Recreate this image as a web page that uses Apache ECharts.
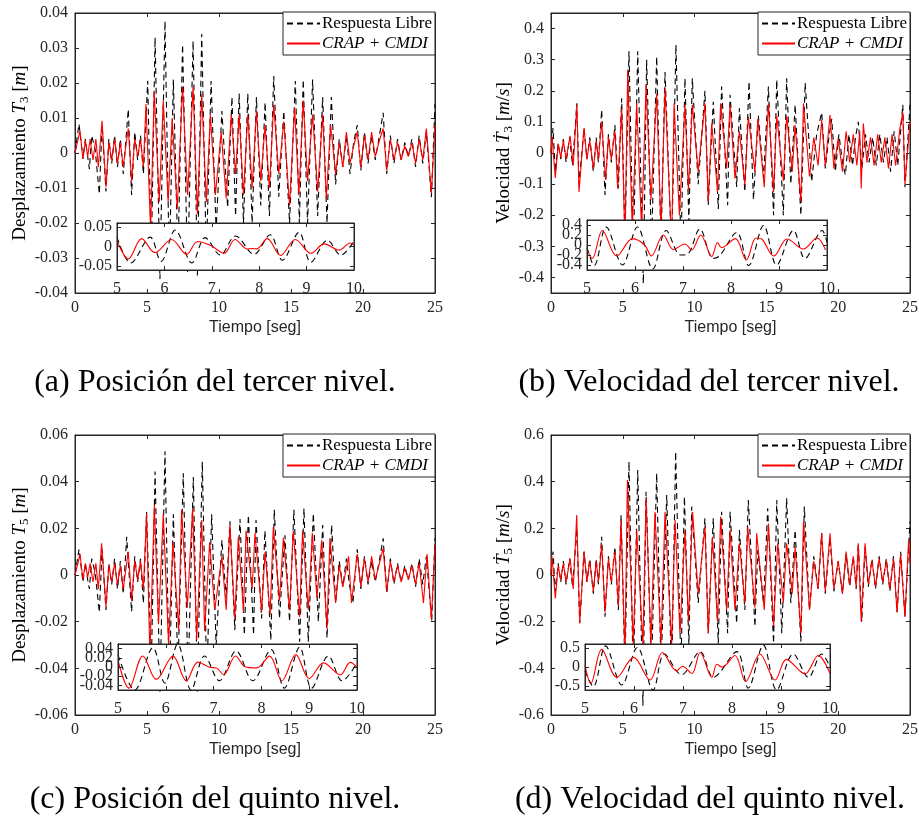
<!DOCTYPE html>
<html>
<head>
<meta charset="utf-8">
<script src="https://cdn.jsdelivr.net/npm/echarts@6/dist/echarts.min.js"></script>
<style>
  html, body { margin: 0; padding: 0; background: #fff; }
  #chart { width: 919px; height: 823px; }
</style>
</head>
<body>
<div id="chart"></div>
<script>
// ---------- tick labels ----------
const ticksX = [0, 5, 10, 15, 20, 25];
const insetTicksX = [5, 6, 7, 8, 9, 10];
const ticksYA = [-0.04, -0.03, -0.02, -0.01, 0, 0.01, 0.02, 0.03, 0.04];
const ticksYB = [-0.4, -0.3, -0.2, -0.1, 0, 0.1, 0.2, 0.3, 0.4];
const ticksYC = [-0.06, -0.04, -0.02, 0, 0.02, 0.04, 0.06];
const ticksYD = [-0.6, -0.4, -0.2, 0, 0.2, 0.4, 0.6];
const insetTicksYA = [-0.05, 0, 0.05];
const insetTicksYB = [-0.4, -0.2, 0, 0.2, 0.4];
const insetTicksYC = [-0.04, -0.02, 0, 0.02, 0.04];
const insetTicksYD = [-0.5, 0, 0.5];

// ---------- (a) desplazamiento tercer nivel: [t (s), valor (m)] ----------
const libreA = [[0,0],[0.28,0.0083],[0.55,-0.0017],[0.72,0.004],[0.88,-0.001],[1.0,-0.0046],[1.16,0.005],[1.4,0.001],[1.69,-0.0117],[1.88,0.008],[2.15,-0.011],[2.35,0.004],[2.55,-0.003],[2.75,0.005],[2.95,-0.004],[3.15,0.004],[3.35,-0.006],[3.5,0.002],[3.7,0.0125],[3.93,-0.012],[4.15,0.006],[4.35,-0.002],[4.55,0.005],[4.75,-0.006],[5.05,0.0206],[5.3,-0.03],[5.56,0.033],[5.9,-0.036],[6.25,0.0377],[6.55,-0.033],[6.83,0.021],[7.15,-0.03],[7.47,0.031],[7.82,-0.034],[8.2,0.032],[8.5,-0.035],[8.8,0.034],[9.12,-0.03],[9.45,0.0206],[9.8,-0.022],[10.2,0.012],[10.6,-0.0155],[10.9,0.016],[11.15,-0.018],[11.4,0.017],[11.7,-0.02],[12.0,0.017],[12.3,-0.02],[12.6,0.016],[12.9,-0.015],[13.2,0.0145],[13.5,-0.018],[13.8,0.022],[14.15,-0.0125],[14.5,0.012],[14.9,-0.02],[15.3,0.0206],[15.58,-0.02],[15.85,0.021],[16.15,-0.02],[16.5,0.021],[16.85,-0.018],[17.2,0.016],[17.5,-0.02],[17.8,0.016],[18.1,-0.009],[18.35,0.004],[18.6,-0.004],[18.85,0.005],[19.1,-0.006],[19.35,0.003],[19.6,0.008],[19.85,-0.005],[20.1,0.006],[20.35,-0.003],[20.6,0.005],[20.85,-0.002],[21.1,0.004],[21.4,0.0115],[21.65,-0.006],[21.9,0.005],[22.15,-0.003],[22.4,0.004],[22.65,-0.002],[22.9,0.003],[23.15,-0.001],[23.4,0.004],[23.65,-0.004],[23.9,0.005],[24.15,-0.003],[24.4,0.006],[24.75,-0.0126],[25,0.014]];
const crapA = [[0,0],[0.35,0.0064],[0.55,-0.0017],[0.72,0.0035],[0.88,-0.001],[1.05,0.004],[1.25,-0.002],[1.45,0.004],[1.62,-0.004],[1.88,0.0092],[2.15,-0.0098],[2.35,0.003],[2.55,-0.002],[2.75,0.004],[2.95,-0.003],[3.15,0.003],[3.35,-0.004],[3.5,0.001],[3.7,0.007],[3.93,-0.008],[4.15,0.004],[4.35,-0.001],[4.55,0.004],[4.75,-0.004],[4.93,0.014],[5.25,-0.022],[5.5,0.0178],[5.85,-0.014],[6.13,0.015],[6.47,-0.014],[6.75,0.01],[7.1,-0.016],[7.47,0.019],[7.82,-0.012],[8.2,0.019],[8.5,-0.0174],[8.8,0.0168],[9.12,-0.014],[9.4,0.011],[9.75,-0.012],[10.15,0.006],[10.5,-0.013],[10.85,0.011],[11.15,-0.006],[11.4,0.011],[11.7,-0.012],[12.0,0.011],[12.3,-0.01],[12.6,0.012],[12.9,-0.008],[13.2,0.008],[13.5,-0.01],[13.8,0.0138],[14.15,-0.006],[14.5,0.009],[14.9,-0.015],[15.25,0.013],[15.55,-0.012],[15.85,0.015],[16.15,-0.008],[16.5,0.011],[16.85,-0.011],[17.2,0.011],[17.45,-0.013],[17.75,0.008],[18.1,-0.006],[18.35,0.003],[18.6,-0.004],[18.85,0.006],[19.1,-0.003],[19.35,0.002],[19.6,0.006],[19.85,-0.004],[20.1,0.005],[20.35,-0.002],[20.6,0.006],[20.85,-0.001],[21.1,0.003],[21.4,0.007],[21.65,-0.005],[21.9,0.004],[22.15,-0.002],[22.4,0.003],[22.65,-0.002],[22.9,0.002],[23.15,-0.001],[23.4,0.003],[23.65,-0.003],[23.9,0.004],[24.15,-0.002],[24.4,0.007],[24.75,-0.0115],[25,0.008]];
const insetLibreA = [[5.0,0.024],[5.29,-0.042],[5.7,0.024],[5.93,-0.038],[6.23,0.042],[6.58,-0.042],[6.86,0.0227],[7.18,-0.022],[7.5,0.027],[7.89,-0.02],[8.23,0.03],[8.49,-0.035],[8.84,0.036],[9.09,-0.04],[9.44,0.016],[9.72,-0.022],[10.0,0.014]];
const insetCrapA = [[5.0,0.015],[5.24,-0.032],[5.52,0.02],[5.8,-0.0157],[6.15,0.018],[6.47,-0.02],[6.7,0.0128],[6.97,0.003],[7.26,-0.0174],[7.49,0.018],[7.75,-0.0067],[7.85,-0.005],[7.95,-0.006],[8.17,0.02],[8.45,-0.0227],[8.76,0.018],[9.09,-0.0174],[9.37,0.0067],[9.69,-0.0093],[9.92,0.009],[10.0,0.003]];

// ---------- (b) velocidad tercer nivel: [t (s), valor (m/s)] ----------
const libreB = [[0,0],[0.14,0.08],[0.3,-0.06],[0.5,0.03],[0.68,-0.02],[0.86,0.045],[1.05,-0.03],[1.3,0.05],[1.5,-0.04],[1.8,0.16],[1.95,-0.1],[2.3,0.08],[2.5,-0.02],[2.7,0.05],[2.95,-0.06],[3.15,0.05],[3.3,-0.03],[3.53,0.139],[3.76,-0.135],[4.0,0.06],[4.2,-0.03],[4.45,0.09],[4.69,-0.114],[4.92,0.176],[5.15,-0.28],[5.43,0.327],[5.73,-0.33],[6.04,0.327],[6.43,-0.42],[6.66,0.3],[7.0,-0.3],[7.36,0.31],[7.66,-0.3],[7.94,0.26],[8.4,-0.32],[8.7,0.348],[9.05,-0.3],[9.33,0.24],[9.6,-0.22],[9.84,0.24],[10.25,-0.1],[10.72,0.2],[10.95,-0.168],[11.3,0.165],[11.65,-0.18],[11.88,0.214],[12.3,-0.168],[12.47,0.187],[12.93,-0.109],[13.12,0.144],[13.5,-0.125],[13.79,0.23],[14.1,-0.15],[14.44,0.12],[14.8,-0.08],[15.14,0.214],[15.5,-0.2],[15.72,0.235],[16.18,-0.2],[16.41,0.24],[16.7,-0.1],[17.0,0.155],[17.4,-0.2],[17.7,0.225],[18.15,-0.092],[18.5,0.06],[18.85,0.13],[19.1,-0.05],[19.35,0.05],[19.55,0.11],[19.8,-0.06],[20.05,0.06],[20.3,-0.03],[20.5,-0.07],[20.75,0.06],[21.0,-0.04],[21.2,0.05],[21.4,0.1],[21.65,-0.05],[21.9,0.06],[22.15,-0.03],[22.4,0.05],[22.65,-0.04],[22.9,0.06],[23.15,-0.03],[23.4,0.05],[23.65,-0.06],[23.9,0.07],[24.15,-0.04],[24.5,0.155],[24.65,-0.11],[25,0.155]];
const crapB = [[0,0],[0.07,0.053],[0.3,-0.08],[0.5,0.03],[0.68,-0.015],[0.86,0.04],[1.05,-0.02],[1.33,0.055],[1.55,-0.04],[1.8,0.155],[1.95,-0.125],[2.3,0.08],[2.5,-0.02],[2.7,0.04],[2.95,-0.05],[3.15,0.04],[3.3,-0.02],[3.53,0.1],[3.8,-0.087],[4.0,0.05],[4.2,-0.02],[4.45,0.07],[4.64,-0.114],[4.92,0.144],[5.15,-0.3],[5.34,0.268],[5.66,-0.25],[5.97,0.16],[6.31,-0.25],[6.62,0.22],[6.96,-0.15],[7.36,0.19],[7.66,-0.25],[7.94,0.21],[8.4,-0.3],[8.57,0.16],[8.94,-0.2],[9.33,0.155],[9.57,-0.12],[9.84,0.155],[10.25,-0.06],[10.72,0.16],[10.95,-0.157],[11.19,0.095],[11.6,-0.125],[11.81,0.16],[12.23,-0.05],[12.47,0.155],[12.81,-0.082],[13.12,0.07],[13.5,-0.103],[13.74,0.117],[14.2,-0.06],[14.4,0.11],[14.85,-0.11],[15.14,0.16],[15.5,-0.125],[15.72,0.12],[16.18,-0.09],[16.41,0.12],[16.8,-0.06],[17.0,0.09],[17.4,-0.157],[17.58,0.16],[18.0,-0.075],[18.3,0.05],[18.6,-0.04],[18.85,0.106],[19.1,-0.04],[19.43,0.122],[19.7,-0.05],[20.0,0.047],[20.3,-0.06],[20.55,0.07],[20.8,-0.03],[21.05,0.06],[21.3,-0.04],[21.5,0.07],[21.6,-0.114],[21.75,0.095],[22.0,-0.03],[22.25,0.05],[22.5,-0.04],[22.75,0.06],[23.0,-0.03],[23.25,0.05],[23.5,-0.05],[23.75,0.06],[24.0,-0.04],[24.3,0.08],[24.5,0.13],[24.65,-0.1],[25,0.1]];
const insetLibreB = [[5.0,-0.05],[5.15,-0.41],[5.4,0.36],[5.74,-0.4],[6.05,0.36],[6.37,-0.48],[6.65,0.29],[6.95,-0.2],[7.1,-0.18],[7.35,0.32],[7.63,-0.27],[7.76,-0.22],[8.12,0.25],[8.37,-0.41],[8.68,0.39],[8.95,-0.4],[9.3,0.29],[9.54,-0.27],[9.9,0.29],[10.0,0.05]];
const insetCrapB = [[5.0,-0.094],[5.11,-0.27],[5.32,0.29],[5.62,-0.22],[5.95,0.128],[6.2,0.0],[6.34,-0.22],[6.59,0.2],[6.8,-0.09],[7.04,0.02],[7.18,-0.1],[7.37,0.2],[7.6,-0.23],[7.72,0.05],[7.8,-0.055],[8.09,0.128],[8.32,-0.3],[8.52,0.14],[8.65,0.11],[8.89,-0.22],[9.17,0.12],[9.51,-0.08],[9.79,0.14],[9.97,-0.1]];

// ---------- (c) desplazamiento quinto nivel ----------
const libreC = [[0,0],[0.28,0.011],[0.55,-0.003],[0.72,0.005],[0.88,-0.002],[1.0,-0.006],[1.16,0.007],[1.4,0.001],[1.69,-0.016],[1.88,0.011],[2.15,-0.015],[2.35,0.005],[2.55,-0.004],[2.75,0.007],[2.95,-0.006],[3.15,0.006],[3.35,-0.008],[3.45,0.002],[3.59,0.0164],[3.93,-0.0157],[4.15,0.008],[4.35,-0.003],[4.55,0.007],[4.75,-0.0121],[4.97,0.027],[5.3,-0.04],[5.56,0.0443],[5.9,-0.05],[6.25,0.053],[6.55,-0.048],[6.83,0.026],[7.15,-0.04],[7.52,0.0436],[7.85,-0.045],[8.22,0.042],[8.5,-0.05],[8.84,0.0486],[9.15,-0.045],[9.49,0.026],[9.8,-0.03],[10.2,0.015],[10.5,-0.01],[10.76,0.023],[11.1,-0.0236],[11.46,0.024],[11.76,-0.0257],[12.04,0.0257],[12.4,-0.0257],[12.57,0.0236],[12.96,-0.0186],[13.19,0.019],[13.6,-0.028],[13.84,0.028],[14.2,-0.0186],[14.58,0.017],[14.9,-0.02],[15.2,0.028],[15.6,-0.0286],[15.9,0.0286],[16.2,-0.0286],[16.55,0.0264],[16.9,-0.02],[17.2,0.0214],[17.5,-0.027],[17.82,0.0214],[18.1,-0.012],[18.35,0.006],[18.6,-0.005],[18.85,0.007],[19.05,-0.004],[19.3,-0.012],[19.6,0.011],[19.85,-0.006],[20.1,0.008],[20.35,-0.004],[20.6,0.006],[20.85,-0.003],[21.1,0.005],[21.4,0.0157],[21.65,-0.008],[21.9,0.007],[22.15,-0.004],[22.4,0.005],[22.65,-0.003],[22.9,0.004],[23.15,-0.002],[23.4,0.005],[23.65,-0.005],[23.9,0.007],[24.15,-0.004],[24.4,0.008],[24.77,-0.02],[25,0.0157]];
const crapC = [[0,0],[0.35,0.009],[0.55,-0.002],[0.72,0.005],[0.88,-0.001],[1.05,0.005],[1.25,-0.003],[1.45,0.005],[1.62,-0.006],[1.85,0.0136],[2.15,-0.0137],[2.35,0.004],[2.55,-0.003],[2.75,0.005],[2.95,-0.004],[3.15,0.004],[3.35,-0.006],[3.5,0.001],[3.7,0.01],[3.93,-0.011],[4.15,0.006],[4.35,-0.002],[4.55,0.006],[4.75,-0.006],[4.97,0.0264],[5.2,-0.035],[5.51,0.03],[5.8,-0.021],[6.13,0.0264],[6.5,-0.03],[6.8,0.014],[7.2,-0.0236],[7.4,0.028],[7.8,-0.014],[8.17,0.0286],[8.45,-0.028],[8.8,0.0236],[9.0,-0.024],[9.35,0.014],[9.7,-0.015],[10.2,0.008],[10.5,-0.015],[10.76,0.0214],[11.1,-0.019],[11.34,0.0164],[11.7,-0.0157],[11.88,0.019],[12.3,-0.006],[12.5,0.018],[12.96,-0.0157],[13.2,0.01],[13.55,-0.017],[13.77,0.0207],[14.2,-0.011],[14.47,0.016],[14.9,-0.015],[15.16,0.019],[15.6,-0.018],[15.8,0.019],[16.2,-0.015],[16.48,0.018],[16.8,-0.01],[17.13,0.015],[17.5,-0.0228],[17.7,0.0157],[18.1,-0.012],[18.35,0.004],[18.6,-0.005],[19.0,0.008],[19.2,-0.012],[19.6,0.009],[19.85,-0.005],[20.1,0.007],[20.35,-0.003],[20.6,0.008],[20.85,-0.002],[21.1,0.004],[21.4,0.0114],[21.65,-0.007],[21.9,0.006],[22.15,-0.003],[22.4,0.004],[22.65,-0.003],[22.9,0.003],[23.15,-0.002],[23.4,0.004],[23.65,-0.004],[23.9,0.005],[24.2,-0.012],[24.45,0.009],[24.75,-0.019],[25,0.013]];
const insetLibreC = [[5.0,0.027],[5.35,-0.05],[5.73,0.042],[5.98,-0.035],[6.25,0.05],[6.53,-0.05],[6.81,0.024],[7.12,-0.03],[7.47,0.035],[7.82,-0.03],[8.2,0.038],[8.48,-0.046],[8.8,0.043],[9.05,-0.046],[9.4,0.024],[9.69,-0.03],[10.0,0.009]];
const insetCrapC = [[5.0,0.015],[5.23,-0.046],[5.52,0.024],[5.8,-0.027],[6.15,0.0237],[6.43,-0.03],[6.67,0.0107],[6.92,-0.0007],[7.06,-0.002],[7.21,-0.0167],[7.46,0.024],[7.65,0.0013],[7.9,-0.002],[8.17,0.0237],[8.43,-0.03],[8.72,0.027],[9.0,-0.025],[9.3,0.009],[9.65,-0.017],[9.86,0.01],[10.0,0.0]];

// ---------- (d) velocidad quinto nivel ----------
const libreD = [[0,0],[0.14,0.1],[0.3,-0.07],[0.5,0.05],[0.68,-0.03],[0.86,0.06],[1.05,-0.04],[1.3,0.07],[1.5,-0.05],[1.8,0.2],[2.0,-0.207],[2.3,0.1],[2.5,-0.03],[2.7,0.07],[2.95,-0.08],[3.15,0.07],[3.3,-0.04],[3.53,0.164],[3.76,-0.179],[4.0,0.08],[4.2,-0.04],[4.45,0.12],[4.69,-0.15],[4.88,0.257],[5.15,-0.4],[5.43,0.486],[5.73,-0.45],[6.04,0.45],[6.4,-0.56],[6.62,0.357],[7.0,-0.4],[7.36,0.436],[7.66,-0.4],[8.06,0.343],[8.4,-0.45],[8.68,0.529],[9.05,-0.4],[9.29,0.336],[9.6,-0.3],[9.8,0.293],[10.25,-0.12],[10.72,0.243],[10.95,-0.25],[11.3,0.243],[11.65,-0.293],[11.88,0.271],[12.3,-0.25],[12.47,0.271],[12.93,-0.207],[13.12,0.193],[13.5,-0.15],[13.74,0.321],[14.2,-0.221],[14.4,0.107],[14.8,-0.121],[15.09,0.286],[15.5,-0.293],[15.72,0.321],[16.07,-0.25],[16.41,0.329],[16.7,-0.12],[17.0,0.193],[17.4,-0.286],[17.64,0.293],[18.0,-0.15],[18.3,0.08],[18.6,-0.06],[18.85,0.18],[19.1,-0.08],[19.43,0.16],[19.7,-0.07],[20.0,0.06],[20.3,-0.08],[20.55,0.09],[20.8,-0.05],[21.05,0.08],[21.25,-0.06],[21.4,0.136],[21.64,-0.2],[21.87,0.12],[22.1,-0.05],[22.35,0.07],[22.6,-0.06],[22.85,0.08],[23.1,-0.04],[23.35,0.07],[23.6,-0.07],[23.85,0.08],[24.1,-0.16],[24.35,0.1],[24.65,-0.179],[25,0.229]];
const crapD = [[0,0],[0.07,0.08],[0.3,-0.1],[0.5,0.04],[0.68,-0.02],[0.86,0.05],[1.05,-0.03],[1.33,0.07],[1.55,-0.06],[1.79,0.257],[2.0,-0.207],[2.3,0.1],[2.5,-0.03],[2.7,0.06],[2.95,-0.07],[3.15,0.06],[3.3,-0.03],[3.53,0.13],[3.76,-0.16],[4.0,0.07],[4.2,-0.03],[4.45,0.1],[4.69,-0.13],[4.88,0.236],[5.15,-0.35],[5.32,0.407],[5.73,-0.3],[5.97,0.193],[6.4,-0.3],[6.62,0.329],[6.96,-0.3],[7.24,0.271],[7.66,-0.3],[7.94,0.271],[8.4,-0.3],[8.64,0.236],[8.98,-0.25],[9.33,0.193],[9.57,-0.2],[9.86,0.271],[10.25,-0.08],[10.72,0.207],[10.95,-0.25],[11.24,0.164],[11.6,-0.2],[11.81,0.25],[12.23,-0.15],[12.47,0.193],[12.81,-0.15],[13.12,0.136],[13.5,-0.12],[13.7,0.207],[14.2,-0.14],[14.32,0.179],[14.85,-0.15],[15.14,0.221],[15.5,-0.22],[15.79,0.136],[16.18,-0.12],[16.41,0.136],[16.8,-0.08],[17.0,0.12],[17.4,-0.25],[17.58,0.229],[18.0,-0.15],[18.3,0.06],[18.6,-0.06],[18.85,0.179],[19.1,-0.07],[19.43,0.179],[19.7,-0.06],[20.0,0.06],[20.3,-0.08],[20.55,0.1],[20.8,-0.04],[21.05,0.08],[21.25,-0.05],[21.4,0.136],[21.6,-0.2],[21.87,0.136],[22.1,-0.04],[22.35,0.06],[22.6,-0.05],[22.85,0.07],[23.1,-0.03],[23.35,0.06],[23.6,-0.06],[23.85,0.07],[24.1,-0.16],[24.35,0.09],[24.65,-0.18],[24.9,0.15],[25,0.05]];
const insetLibreD = [[5.0,-0.1],[5.17,-0.51],[5.42,0.55],[5.75,-0.47],[6.07,0.51],[6.39,-0.6],[6.62,0.34],[6.97,-0.2],[7.35,0.4],[7.62,-0.27],[8.1,0.4],[8.33,-0.55],[8.64,0.57],[8.91,-0.6],[9.25,0.34],[9.56,-0.27],[9.83,0.34],[10.0,0.0]];
const insetCrapD = [[5.0,0.05],[5.12,-0.43],[5.34,0.46],[5.65,-0.27],[5.99,0.25],[6.33,-0.34],[6.58,0.38],[6.87,-0.1],[6.99,0.02],[7.18,-0.17],[7.35,0.38],[7.59,-0.27],[7.69,0.07],[7.8,0.0],[8.06,0.3],[8.28,-0.38],[8.57,0.34],[8.88,-0.34],[9.11,0.2],[9.49,-0.18],[9.76,0.3],[10.0,-0.17]];

// ---------- text ----------
const seriesNames = ['Respuesta Libre', 'CRAP + CMDI'];
const xTitle = 'Tiempo [seg]';
const captions = ['(a) Posición del tercer nivel.', '(b) Velocidad del tercer nivel.',
                  '(c) Posición del quinto nivel.', '(d) Velocidad del quinto nivel.'];

// ---------- styling ----------
const SERIF = '"Liberation Serif", "DejaVu Serif", serif';
const SANS = '"Liberation Sans", Arial, sans-serif';
const AX = '#262626';

const nameRich = {
  r: { fontFamily: SERIF, fontSize: 19, lineHeight: 22, color: '#000' },
  i: { fontFamily: SERIF, fontSize: 19, lineHeight: 22, fontStyle: 'italic', color: '#000' },
  s: { fontFamily: SERIF, fontSize: 13, lineHeight: 12, verticalAlign: 'bottom', color: '#000' }
};

const panels = [
  { main: { left: 75, top: 13, width: 360, height: 280 }, yMin: -0.04, yMax: 0.04, yTicks: ticksYA,
    yName: '{r|Desplazamiento }{i|T}{s|3}{r| [}{i|m}{r|]}', nameGap: 42,
    libre: libreA, crap: crapA,
    inset: { left: 117, top: 223, width: 237, height: 47 }, iyMin: -0.06, iyMax: 0.06, iyTicks: insetTicksYA,
    iLibre: insetLibreA, iCrap: insetCrapA,
    legend: { right: 484, top: 12 }, caption: { x: 215, y: 383 } },
  { main: { left: 551, top: 13, width: 359, height: 280 }, yMin: -0.45, yMax: 0.45, yTicks: ticksYB,
    yName: '{r|Velocidad }{i|Ṫ}{s|3}{r| [}{i|m}{r|/}{i|s}{r|]}', nameGap: 35,
    libre: libreB, crap: crapB,
    inset: { left: 587, top: 220, width: 240, height: 50 }, iyMin: -0.5, iyMax: 0.5, iyTicks: insetTicksYB,
    iLibre: insetLibreB, iCrap: insetCrapB,
    legend: { right: 9, top: 12 }, caption: { x: 709, y: 383 } },
  { main: { left: 75, top: 435, width: 360, height: 280 }, yMin: -0.06, yMax: 0.06, yTicks: ticksYC,
    yName: '{r|Desplazamiento }{i|T}{s|5}{r| [}{i|m}{r|]}', nameGap: 42,
    libre: libreC, crap: crapC,
    inset: { left: 118, top: 644, width: 239, height: 46 }, iyMin: -0.05, iyMax: 0.05, iyTicks: insetTicksYC,
    iLibre: insetLibreC, iCrap: insetCrapC,
    legend: { right: 484, top: 434 }, caption: { x: 215, y: 800 } },
  { main: { left: 551, top: 435, width: 359, height: 280 }, yMin: -0.6, yMax: 0.6, yTicks: ticksYD,
    yName: '{r|Velocidad }{i|Ṫ}{s|5}{r| [}{i|m}{r|/}{i|s}{r|]}', nameGap: 35,
    libre: libreD, crap: crapD,
    inset: { left: 585, top: 644, width: 245, height: 46 }, iyMin: -0.6, iyMax: 0.6, iyTicks: insetTicksYD,
    iLibre: insetLibreD, iCrap: insetCrapD,
    legend: { right: 9, top: 434 }, caption: { x: 710, y: 800 } }
];

function valueAxis(o) {
  return {
    type: 'value', gridIndex: o.grid, position: o.pos, min: o.min, max: o.max, z: o.z,
    axisLine: { show: true, onZero: false, lineStyle: { color: AX, width: 1 } },
    axisTick: { show: true, inside: true, length: 4, customValues: o.ticks, lineStyle: { color: AX, width: 1 } },
    axisLabel: { show: !!o.labels, customValues: o.ticks, margin: o.margin || 6, color: AX,
                 hideOverlap: false, showMinLabel: true, showMaxLabel: true,
                 fontFamily: SERIF, fontSize: 16, formatter: v => String(v) },
    splitLine: { show: false },
    name: o.name || '', nameLocation: 'middle', nameGap: o.nameGap || 0, nameRotate: o.nameRotate,
    nameTextStyle: o.nameStyle
  };
}

function lineSeries(name, data, xi, yi, z, dashed, smooth) {
  return {
    type: 'line', name, data, xAxisIndex: xi, yAxisIndex: yi, z,
    symbol: 'none', smooth: smooth ? 0.35 : false, clip: true, animation: false,
    lineStyle: dashed ? { color: '#000', width: 1.1, type: [6, 4] } : { color: '#ff0000', width: 1.1 },
    itemStyle: { color: dashed ? '#000' : '#ff0000' }
  };
}

const grids = [], xAxes = [], yAxes = [], series = [], legends = [], graphics = [];

panels.forEach((p, k) => {
  const gMain = grids.length;
  grids.push(Object.assign({ show: true, borderColor: AX, borderWidth: 1, backgroundColor: 'transparent', z: 0,
                             outerBoundsMode: 'none' }, p.main));
  const gIn = grids.length;
  grids.push(Object.assign({ show: true, borderColor: AX, borderWidth: 1, backgroundColor: '#fff', z: 3,
                             outerBoundsMode: 'none' }, p.inset));

  // main axes: labelled bottom/left, mirrored ticks on top/right
  const xm = xAxes.length;
  xAxes.push(valueAxis({ grid: gMain, pos: 'bottom', min: 0, max: 25, ticks: ticksX, labels: true, margin: 7, z: 0,
    name: xTitle, nameGap: 27, nameStyle: { fontFamily: SANS, fontSize: 16, color: AX } }));
  xAxes.push(valueAxis({ grid: gMain, pos: 'top', min: 0, max: 25, ticks: ticksX, labels: false, z: 0 }));
  const ym = yAxes.length;
  yAxes.push(valueAxis({ grid: gMain, pos: 'left', min: p.yMin, max: p.yMax, ticks: p.yTicks, labels: true, margin: 7, z: 0,
    name: p.yName, nameGap: p.nameGap, nameRotate: 90, nameStyle: { rich: nameRich } }));
  yAxes.push(valueAxis({ grid: gMain, pos: 'right', min: p.yMin, max: p.yMax, ticks: p.yTicks, labels: false, z: 0 }));

  // inset axes; crowded tick labels are split over two stacked axes so every label is drawn
  const xi = xAxes.length;
  xAxes.push(valueAxis({ grid: gIn, pos: 'bottom', min: 5, max: 10, ticks: insetTicksX, labels: true, margin: 11, z: 5 }));
  xAxes.push(valueAxis({ grid: gIn, pos: 'top', min: 5, max: 10, ticks: insetTicksX, labels: false, z: 5 }));
  const evenTicks = p.iyTicks.filter((_, j) => j % 2 === 0);
  const oddTicks = p.iyTicks.filter((_, j) => j % 2 === 1);
  const yi = yAxes.length;
  yAxes.push(valueAxis({ grid: gIn, pos: 'left', min: p.iyMin, max: p.iyMax, ticks: evenTicks, labels: true, margin: 5, z: 5 }));
  yAxes.push(valueAxis({ grid: gIn, pos: 'right', min: p.iyMin, max: p.iyMax, ticks: p.iyTicks, labels: false, z: 5 }));
  if (oddTicks.length) {
    yAxes.push(valueAxis({ grid: gIn, pos: 'left', min: p.iyMin, max: p.iyMax, ticks: oddTicks, labels: true, margin: 5, z: 5 }));
  }

  series.push(lineSeries(seriesNames[0], p.libre, xm, ym, 1, true, false));
  series.push(lineSeries(seriesNames[1], p.crap, xm, ym, 1, false, false));
  series.push(lineSeries(seriesNames[0], p.iLibre, xi, yi, 4, true, true));
  series.push(lineSeries(seriesNames[1], p.iCrap, xi, yi, 4, false, true));

  legends.push({
    orient: 'vertical', right: p.legend.right, top: p.legend.top, z: 6,
    backgroundColor: '#fff', borderColor: AX, borderWidth: 1, borderRadius: 0,
    padding: [3, 3, 3, 3], itemGap: 3, itemWidth: 33, itemHeight: 16, selectedMode: false,
    itemStyle: { opacity: 0 },
    textStyle: { fontFamily: SERIF, fontSize: 17, color: '#000', padding: [0, 0, 0, -3] },
    data: [{ name: seriesNames[0] }, { name: seriesNames[1], textStyle: { fontStyle: 'italic' } }]
  });

  graphics.push({
    type: 'text', x: p.caption.x, y: p.caption.y, z: 10,
    style: { text: captions[k], font: '32px ' + SERIF, fill: '#000', textAlign: 'center', textVerticalAlign: 'middle' }
  });
});

const chart = echarts.init(document.getElementById('chart'), null, { renderer: 'canvas' });
chart.setOption({
  animation: false,
  backgroundColor: '#fff',
  grid: grids,
  xAxis: xAxes,
  yAxis: yAxes,
  legend: legends,
  series: series,
  graphic: graphics
});
</script>
</body>
</html>
